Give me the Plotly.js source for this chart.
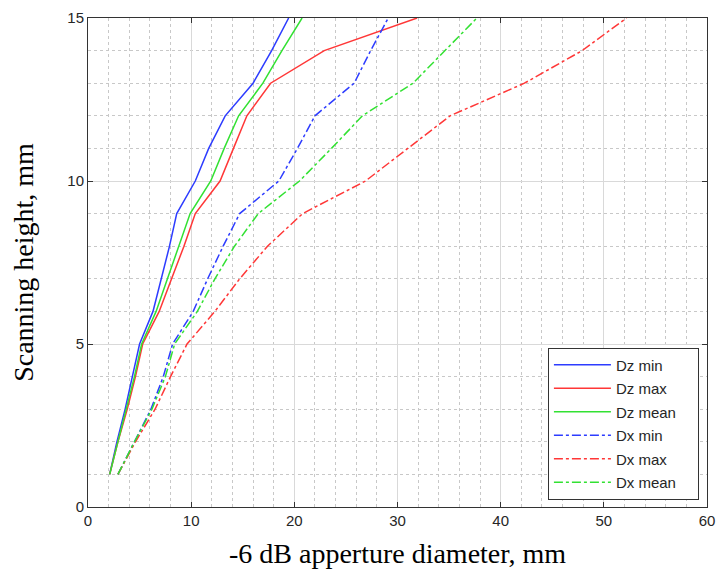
<!DOCTYPE html>
<html>
<head>
<meta charset="utf-8">
<script src="https://cdn.plot.ly/plotly-3.0.1.min.js"></script>
<style>html,body{margin:0;padding:0;background:#fff;}#chart{width:719px;height:572px;}</style>
</head>
<body>
<div id="chart"></div>
<script>
const heights = [1,2,3,4,5,6,7,8,9,10,11,12,13,14,15];
const dzMin  = [2.1,2.8,3.6,4.3,5.0,6.3,7.1,7.9,8.6,10.4,11.7,13.3,16.0,17.8,19.45];
const dzMax  = [2.1,2.9,3.8,4.6,5.3,6.9,8.1,9.3,10.4,12.8,14.1,15.4,17.7,22.9,31.9];
const dzMean = [2.1,2.9,3.7,4.5,5.2,6.6,7.7,8.8,9.9,11.9,13.2,14.6,16.95,18.8,20.75];
const dxMin  = [2.9,4.5,6.1,7.3,8.2,10.2,11.6,13.1,14.7,18.5,20.3,22.0,25.8,27.4,29.1];
const dxMax  = [2.9,4.6,6.5,8.0,9.6,12.3,14.7,17.4,20.8,26.9,31.0,35.1,42.3,47.9,52.2];
const dxMean = [2.9,4.5,6.2,7.5,8.4,10.6,12.3,14.2,16.5,20.5,23.6,26.6,31.5,34.6,37.7];
const seriesNames = ['Dz min','Dz max','Dz mean','Dx min','Dx max','Dx mean'];

const BLUE = 'rgb(45,60,255)', RED = 'rgb(255,55,55)', GREEN = 'rgb(50,225,50)';
const specs = [
  [dzMin, BLUE, 'solid'], [dzMax, RED, 'solid'], [dzMean, GREEN, 'solid'],
  [dxMin, BLUE, 'dashdot'], [dxMax, RED, 'dashdot'], [dxMean, GREEN, 'dashdot']
];
const traces = specs.map((s, i) => ({
  x: s[0], y: heights, type: 'scatter', mode: 'lines', name: seriesNames[i],
  legendgroup: 'g' + i,
  line: {color: s[1], width: 1.5, dash: s[2]}
}));

const axisCommon = {
  showline: true, mirror: 'ticks', linecolor: '#333', linewidth: 1,
  ticks: 'inside', ticklen: 5, tickcolor: '#333',
  showgrid: true, gridcolor: '#d9d9d9', gridwidth: 1,
  zeroline: false,
  tickfont: {family: 'Liberation Sans, Arial, sans-serif', size: 15, color: '#262626'}
};
const layout = {
  width: 719, height: 572,
  margin: {l: 88, r: 12, t: 18, b: 65},
  paper_bgcolor: '#fff', plot_bgcolor: '#fff',
  showlegend: true,
  xaxis: Object.assign({}, axisCommon, {
    range: [0, 60], dtick: 10, tick0: 0,
    minor: {dtick: 2, showgrid: true, gridcolor: '#c8c8c8', griddash: 'dot', gridwidth: 1},
    title: {text: '-6 dB apperture diameter, mm', standoff: 15,
            font: {family: 'Liberation Serif, Times New Roman, serif', size: 28, color: '#000'}}
  }),
  yaxis: Object.assign({}, axisCommon, {
    range: [0, 15], dtick: 5, tick0: 0,
    minor: {dtick: 1, showgrid: true, gridcolor: '#c8c8c8', griddash: 'dot', gridwidth: 1},
    title: {text: 'Scanning height, mm', standoff: 25,
            font: {family: 'Liberation Serif, Times New Roman, serif', size: 28, color: '#000'}}
  }),
  legend: {
    x: 0.743, y: 0.326, xanchor: 'left', yanchor: 'top',
    bgcolor: '#fff', bordercolor: '#333', borderwidth: 1,
    font: {family: 'Liberation Sans, Arial, sans-serif', size: 15, color: '#262626'},
    tracegroupgap: 1
  }
};

function matlabLegend(gd) {
  const leg = gd.querySelector('g.legend');
  if (!leg) return;
  leg.querySelectorAll('.legendlines path, path.js-line').forEach(p => p.setAttribute('d', 'M5,0h57'));
  leg.querySelectorAll('text.legendtext').forEach(t => t.setAttribute('x', 67));
  leg.removeAttribute('clip-path');
  leg.querySelectorAll('[clip-path]').forEach(g => g.removeAttribute('clip-path'));
  leg.querySelectorAll('rect.bg').forEach(r => r.setAttribute('width', 150));
  gd.querySelectorAll('clipPath[id*="legend"] rect').forEach(r => r.setAttribute('width', 160));
}
const gd = document.getElementById('chart');
Plotly.newPlot(gd, traces, layout, {displayModeBar: false, staticPlot: true}).then(() => {
  matlabLegend(gd);
  gd.on('plotly_afterplot', () => matlabLegend(gd));
  requestAnimationFrame(() => matlabLegend(gd));
  [0, 50, 150, 400].forEach(ms => setTimeout(() => matlabLegend(gd), ms));
});
</script>
</body>
</html>
